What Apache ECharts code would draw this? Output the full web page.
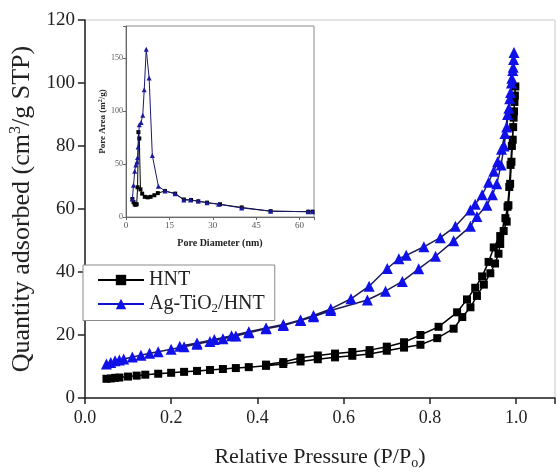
<!DOCTYPE html>
<html>
<head>
<meta charset="utf-8">
<script src="https://cdn.jsdelivr.net/npm/echarts@6/dist/echarts.min.js"></script>
<style>
html,body{margin:0;padding:0;background:#fff;}
#c{width:558px;height:475px;}
</style>
</head>
<body>
<div id="c"></div>
<script>
// ---- Main isotherm data: HNT ----
var hntAdsP = [0.05,0.06,0.07,0.08,0.10,0.12,0.14,0.17,0.20,0.23,0.26,0.29,0.32,0.35,0.38,0.42,0.46,0.50,0.54,0.58,0.62,0.66,0.70,0.74,0.778,0.817,0.855,0.875,0.894,0.909,0.925,0.940,0.951,0.959,0.963,0.971,0.978,0.982,0.986,0.989,0.992,0.994,0.996,0.998];
var hntAdsQ = [6.1,6.2,6.4,6.5,6.8,7.1,7.4,7.7,8.0,8.3,8.6,8.9,9.2,9.5,9.8,10.2,10.8,11.6,12.3,12.9,13.4,14.0,15.0,16.0,16.9,19.0,22.0,25.7,28.8,32.4,36.0,39.6,42.7,45.8,48.9,53.0,56.0,61.2,68.0,75.0,82.0,89.0,94.0,98.9];
var hntDesP = [0.997,0.995,0.993,0.990,0.987,0.984,0.980,0.975,0.963,0.948,0.936,0.921,0.905,0.886,0.863,0.820,0.778,0.740,0.700,0.660,0.620,0.580,0.540,0.500,0.460,0.420];
var hntDesQ = [96.0,91.0,86.0,80.0,74.0,67.0,60.7,57.1,51.4,47.8,43.2,38.6,35.0,31.3,27.2,22.6,20.0,17.7,16.3,15.2,14.6,14.1,13.5,12.8,11.4,10.6];
// ---- Main isotherm data: Ag-TiO2/HNT ----
var agAdsP = [0.05,0.06,0.07,0.08,0.09,0.11,0.13,0.15,0.17,0.20,0.23,0.26,0.29,0.32,0.35,0.38,0.42,0.46,0.50,0.53,0.57,0.655,0.697,0.736,0.774,0.813,0.855,0.894,0.909,0.932,0.945,0.955,0.965,0.972,0.978,0.983,0.987,0.990,0.993,0.995];
var agAdsQ = [10.8,11.3,11.8,12.1,12.4,13.0,13.6,14.2,14.7,15.5,16.3,17.1,17.9,18.8,19.7,20.7,22.0,23.0,24.6,25.8,27.8,31.1,33.9,37.0,41.0,45.0,49.9,54.5,57.6,61.2,64.5,68.0,74.0,80.0,86.0,92.0,97.0,101.5,105.0,109.7];
var agDesP = [0.994,0.992,0.989,0.985,0.980,0.974,0.966,0.957,0.948,0.936,0.921,0.905,0.894,0.859,0.824,0.786,0.745,0.728,0.701,0.659,0.617,0.570,0.530,0.500,0.460,0.420,0.380,0.340,0.300,0.260,0.220];
var agDesQ = [107.5,104.0,100.0,95.0,90.0,84.0,79.0,75.0,72.0,68.5,64.5,61.5,59.7,54.5,50.9,48.0,45.3,44.2,41.1,35.5,31.5,28.3,26.2,24.8,23.3,22.2,21.0,19.8,18.6,17.5,16.4];
// ---- Inset: pore size distribution ----
var hntPoreD = [2.2,2.6,3.0,3.3,3.7,4.0,4.3,4.6,5.0,5.6,6.5,7.5,8.5,9.8,11.0,13.5,17.0,20.0,22.5,25.0,28.0,32.5,40.0,50.0,63.0,64.5];
var hntPoreA = [17,14,12,11.5,12,28,80,74,26,22,19,18.5,19,20.5,22.5,24.5,22,16.5,16,14.8,13.5,12,9,5.5,5,5];
var agPoreD = [2.2,2.6,3.0,3.4,3.8,4.0,4.2,4.6,5.2,5.8,6.3,7.0,8.0,9.1,11.2,13.5,17.0,20.0,22.3,25.0,28.0,32.0,40.0,50.0,63.0,64.5];
var agPoreA = [17,30,43,49,52,56,66,87,89,96,120,158,131,58,29,24.5,22,16,16,15,13.5,12,8.5,5.5,5,5];
// ---- Tick values ----
var mainXTicks = [0.0,0.2,0.4,0.6,0.8,1.0];
var mainYTicks = [0,20,40,60,80,100,120];
var insetXTicks = [0,15,30,45,60];
var insetYTicks = [0,50,100,150];

function pairs(xs, ys){ var r=[]; for(var i=0;i<xs.length;i++) r.push([xs[i], ys[i]]); return r; }
function isTick(list, v){ for(var i=0;i<list.length;i++){ if(Math.abs(list[i]-v)<1e-6) return true; } return false; }

var serif = 'Liberation Serif';
var chart = echarts.init(document.getElementById('c'));
chart.setOption({
  animation: false,
  backgroundColor: '#fff',
  grid: [
    {left: 83, right: 3, top: 20, bottom: 67, show: true, borderColor: '#c8c8c8', borderWidth: 1},
    {left: 126, right: 244, top: 26, bottom: 258, show: true, borderColor: '#8a8a8a', borderWidth: 1, backgroundColor: '#fff', z: 5}
  ],
  legend: {
    data: [
      {name: 'HNT'},
      {name: 'Ag-TiO2/HNT', lineStyle: {color: '#1010d0'}}
    ],
    orient: 'vertical',
    left: 83, top: 265,
    padding: [5, 10, 5, 14],
    itemWidth: 46, itemHeight: 13, itemGap: 4,
    backgroundColor: '#fff',
    borderColor: '#8a8a8a', borderWidth: 1,
    textStyle: {fontFamily: serif, fontSize: 20, color: '#222',
      rich: {a: {fontFamily: serif, fontSize: 20, color: '#222'}, s: {fontFamily: serif, fontSize: 13, color: '#222', padding: [10,0,0,0]}}},
    formatter: function(n){ return n === 'Ag-TiO2/HNT' ? '{a|Ag-TiO}{s|2}{a|/HNT}' : n; }
  },
  xAxis: [
    {gridIndex: 0, type: 'value', min: 0, max: 1.09, interval: 0.2,
     name: '{a|Relative Pressure (P/P}{s|o}{a|)}', nameLocation: 'middle', nameGap: 46,
     nameTextStyle: {rich: {a: {fontFamily: serif, fontSize: 22, color: '#222'}, s: {fontFamily: serif, fontSize: 14, color: '#222', padding: [12,0,0,0]}}},
     axisLine: {lineStyle: {color: '#222', width: 1.5}},
     axisTick: {show: true, inside: false, length: 6, lineStyle: {color: '#222', width: 1.5}},
     axisLabel: {fontFamily: serif, fontSize: 18, color: '#222', margin: 11,
       formatter: function(v){ return isTick(mainXTicks, v) ? v.toFixed(1) : ''; }},
     splitLine: {show: false}},
    {gridIndex: 1, type: 'value', min: 0, max: 65, interval: 15,
     name: 'Pore Diameter (nm)', nameLocation: 'middle', nameGap: 21,
     nameTextStyle: {fontFamily: serif, fontSize: 10, fontWeight: 'bold', color: '#222'},
     axisLine: {lineStyle: {color: '#666', width: 1}},
     axisTick: {length: 3, lineStyle: {color: '#666'}},
     axisLabel: {fontFamily: serif, fontSize: 9, color: '#555', margin: 4,
       formatter: function(v){ return isTick(insetXTicks, v) ? String(v) : ''; }},
     splitLine: {show: false}, z: 6}
  ],
  yAxis: [
    {gridIndex: 0, type: 'value', min: 0, max: 120, interval: 20,
     name: '{a|Quantity adsorbed (cm}{u|3}{a|/g STP)}', nameLocation: 'middle', nameGap: 46,
     nameTextStyle: {rich: {a: {fontFamily: serif, fontSize: 26, color: '#222'}, u: {fontFamily: serif, fontSize: 16, color: '#222', padding: [0,0,13,0]}}},
     axisLine: {show: true, lineStyle: {color: '#222', width: 1.5}},
     axisTick: {show: true, inside: false, length: 7, lineStyle: {color: '#222', width: 1.5}},
     axisLabel: {fontFamily: serif, fontSize: 19, color: '#222', margin: 10,
       formatter: function(v){ return isTick(mainYTicks, v) ? String(v) : ''; }},
     splitLine: {show: false}},
    {gridIndex: 1, type: 'value', min: 0, max: 180, interval: 50,
     name: '{a|Pore Area (m}{u|2}{a|/g)}', nameLocation: 'middle', nameGap: 16,
     nameTextStyle: {rich: {a: {fontFamily: serif, fontSize: 9, fontWeight: 'bold', color: '#222'}, u: {fontFamily: serif, fontSize: 6, fontWeight: 'bold', color: '#222', padding: [0,0,5,0]}}},
     axisLine: {show: true, lineStyle: {color: '#666', width: 1}},
     axisTick: {show: true, length: 3, lineStyle: {color: '#666'}},
     axisLabel: {fontFamily: serif, fontSize: 8, color: '#555', margin: 3,
       formatter: function(v){ return isTick(insetYTicks, v) ? String(v) : ''; }},
     splitLine: {show: false}, z: 6}
  ],
  series: [
    {name: 'HNT', type: 'line', xAxisIndex: 0, yAxisIndex: 0,
     data: pairs(hntAdsP.concat(hntDesP), hntAdsQ.concat(hntDesQ)),
     symbol: 'rect', symbolSize: 8, showAllSymbol: true,
     itemStyle: {color: '#000'}, lineStyle: {color: '#000', width: 1.5}, z: 2},
    {name: 'Ag-TiO2/HNT', type: 'line', xAxisIndex: 0, yAxisIndex: 0,
     data: pairs(agAdsP.concat(agDesP), agAdsQ.concat(agDesQ)),
     symbol: 'triangle', symbolSize: 11, showAllSymbol: true,
     itemStyle: {color: '#1010e8'}, lineStyle: {color: '#1c1c50', width: 1.5}, z: 3},
    {name: 'HNT pore', type: 'line', xAxisIndex: 1, yAxisIndex: 1,
     data: pairs(hntPoreD, hntPoreA),
     symbol: 'rect', symbolSize: 4, showAllSymbol: true,
     itemStyle: {color: '#000'}, lineStyle: {color: '#000', width: 1}, z: 7},
    {name: 'Ag pore', type: 'line', xAxisIndex: 1, yAxisIndex: 1,
     data: pairs(agPoreD, agPoreA),
     symbol: 'triangle', symbolSize: 5, showAllSymbol: true,
     itemStyle: {color: '#1a1aa0'}, lineStyle: {color: '#1a1a70', width: 1}, z: 8}
  ]
});
</script>
</body>
</html>
